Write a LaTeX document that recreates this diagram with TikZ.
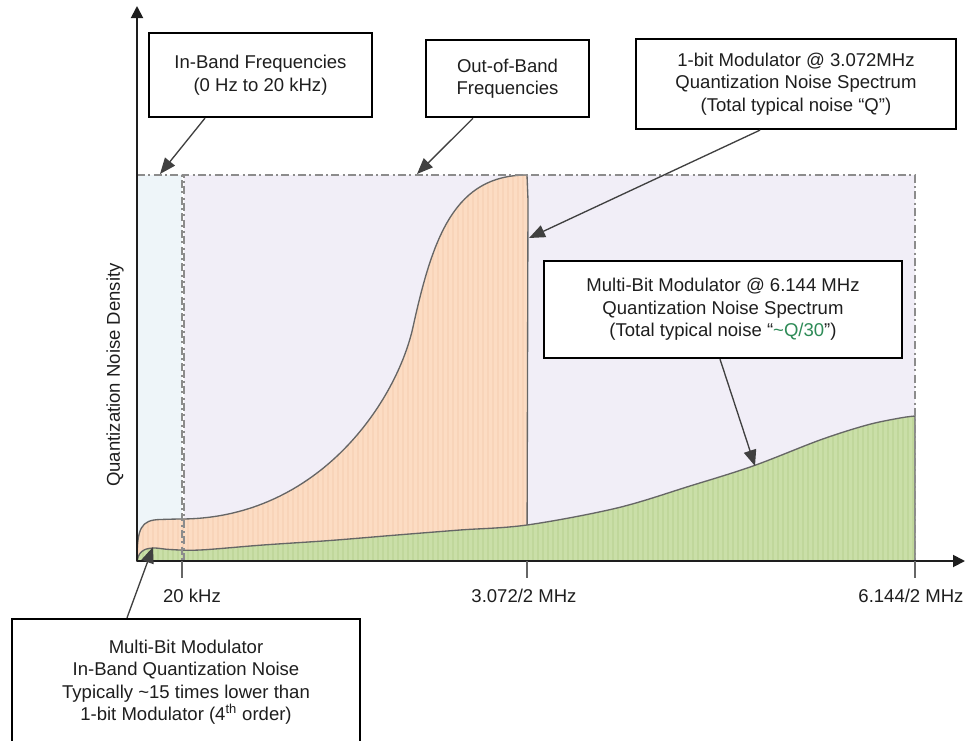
\documentclass[tikz,border=0pt]{standalone}
\usepackage{fontspec}
\setmainfont{Liberation Sans}
\usetikzlibrary{arrows.meta,calc}
\definecolor{inband}{HTML}{EEF5F9}
\definecolor{outband}{HTML}{F1EEF7}
\definecolor{onebit}{HTML}{FCDCC3}
\definecolor{onebitstripe}{HTML}{F8D4B9}
\definecolor{multibit}{HTML}{CADFA8}
\definecolor{multibitstripe}{HTML}{C0D79B}
\definecolor{curveline}{HTML}{666666}
\definecolor{bandline}{HTML}{8C8C8C}
\definecolor{qgreen}{HTML}{2E8B57}
\definecolor{ink}{HTML}{1E1E1E}
\begin{document}
\begin{tikzpicture}[x=0.75pt,y=-0.75pt,
  font=\fontsize{13.9pt}{16.9pt}\selectfont, text=ink,
  note/.style={draw=black, line width=1.7pt, fill=white, align=center, inner sep=0pt},
  pointer/.style={draw=ink!85, line width=1pt, -{Triangle[length=12pt,width=9.5pt]}},
  band/.style={draw=bandline, line width=0.9pt, dash pattern=on 6pt off 2.5pt on 1.5pt off 2.5pt},
  axisline/.style={draw=ink, line width=1.4pt, -{Triangle[length=9pt,width=9pt]}},
  tickmark/.style={draw=curveline, line width=0.9pt},
  curve/.style={draw=curveline, line width=1pt},
  ticklabel/.style={inner sep=0pt}]

\clip (0,0) rectangle (965,740);

% frequency bands
\path[fill=inband] (137,175) rectangle (182,561);
\path[fill=outband] (184,175) rectangle (915,561);

% 1-bit modulator noise spectrum
\path[fill=onebit, curve,
  path picture={\foreach \sx in {138,143,...,530} {\draw[onebitstripe, line width=0.9pt] (\sx,150) -- (\sx,570);}}]
  (137,561) .. controls (137,528) and (141,520) .. (160,519.5)
  .. controls (170,519.2) and (176,519) .. (182,519)
  .. controls (320,518) and (397,400) .. (413,327)
  .. controls (433,236) and (455,175) .. (527,175)
  -- (528,200) -- (527,561) -- cycle;

% multi-bit modulator noise spectrum
\path[fill=multibit, curve,
  path picture={\foreach \sx in {138,143,...,915} {\draw[multibitstripe, line width=0.9pt] (\sx,400) -- (\sx,570);}}]
  plot[smooth, tension=0.55] coordinates {(137,561) (139.5,554) (145,549.5) (155,548) (170,549.5) (200,550) (263,545) (330,540.5) (397,535) (460,530) (527,525) (617,508) (690,486) (753,466) (820,440) (867,425) (900,418) (915,416)}
  -- (915,561) -- (137,561) -- cycle;

% band borders
\draw[band] (137,175) -- (182,175) -- (182,561);
\draw[band] (184,561) -- (184,175) -- (915,175) -- (915,561);

% axes
\coordinate (O) at (137,561);
\coordinate (ytop) at (137,6);
\coordinate (xend) at (965,561);
\draw[axisline] (O) -- (ytop);
\draw[axisline] (O) -- (xend);

% ticks and labels
\draw[tickmark] (182,561) -- (182,578);
\draw[tickmark] (527,561) -- (527,578);
\draw[tickmark] (915,561) -- (915,578);
\node[ticklabel] (l20) at (192,596) {20 kHz};
\node[ticklabel] (l3072) at (524,596) {3.072/2 MHz};
\node[ticklabel] (l6144) at (911,596) {6.144/2 MHz};
\node[ticklabel, rotate=90] (ylab) at (115,375) {Quantization Noise Density};

% callouts
\node[note, minimum width=167pt, minimum height=63pt] (bInBand) at (260.5,75)
  {In-Band Frequencies\\(0 Hz to 20 kHz)};
\node[note, minimum width=122pt, minimum height=58pt] (bOutBand) at (507.5,78.5)
  {Out-of-Band\\Frequencies};
\node[note, minimum width=240pt, minimum height=67.5pt] (bOneBit) at (796,84)
  {1-bit Modulator @ 3.072MHz\\Quantization Noise Spectrum\\(Total typical noise “Q”)};
\node[note, minimum width=268.5pt, minimum height=72.75pt] (bMulti) at (723,309.5)
  {Multi-Bit Modulator @ 6.144 MHz\\Quantization Noise Spectrum\\(Total typical noise “\textcolor{qgreen}{\textasciitilde Q/30}”)};
\node[note, minimum width=261pt, minimum height=94.5pt] (bInNoise) at (186,682)
  {Multi-Bit Modulator\\In-Band Quantization Noise\\Typically \textasciitilde15 times lower than\\1-bit Modulator (4\textsuperscript{th} order)};

% pointers
\coordinate (tInBand) at (160,174);
\coordinate (tOutBand) at (417,174);
\coordinate (tOneBit) at (529,238);
\coordinate (tMulti) at (755,466);
\coordinate (tInNoise) at (153,547);
\draw[pointer] ($(bInBand.south)+(-55.5,0)$) -- (tInBand);
\draw[pointer] ($(bOutBand.south)+(-34.5,0)$) -- (tOutBand);
\draw[pointer] ($(bOneBit.south)+(-36,0)$) -- (tOneBit);
\draw[pointer] ($(bMulti.south)+(-3,0)$) -- (tMulti);
\draw[pointer] ($(bInNoise.north)+(-59,0)$) -- (tInNoise);
\end{tikzpicture}
\end{document}
